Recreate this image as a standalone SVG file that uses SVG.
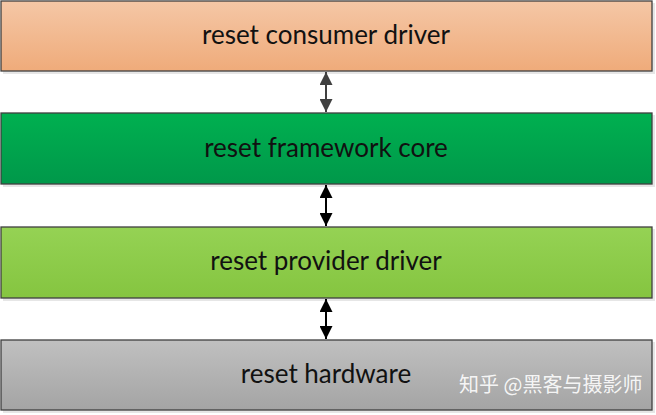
<svg xmlns="http://www.w3.org/2000/svg" width="656" height="415" viewBox="0 0 656 415">
<style>
.box{stroke:#3f3f3f;stroke-width:1.3}
.shadow{fill:#e6e6e6}
.lbl{font-family:Lato,"Open Sans","Liberation Sans",sans-serif;font-size:26px;fill:#111;text-anchor:middle}
.conn{fill:none;stroke-width:2}
.wm{font-family:"Noto Sans CJK SC","Noto Sans",sans-serif;font-size:20px;fill:#ffffff;fill-opacity:0.9}
</style>
<defs>
<linearGradient id="gOrange" x1="0" y1="0" x2="0" y2="1"><stop offset="0" stop-color="#f5c7a6"/><stop offset="1" stop-color="#efab7a"/></linearGradient>
<linearGradient id="gGreen" x1="0" y1="0" x2="0" y2="1"><stop offset="0" stop-color="#00b050"/><stop offset="1" stop-color="#00984a"/></linearGradient>
<linearGradient id="gLime" x1="0" y1="0" x2="0" y2="1"><stop offset="0" stop-color="#95d254"/><stop offset="1" stop-color="#85c540"/></linearGradient>
<linearGradient id="gGray" x1="0" y1="0" x2="0" y2="1"><stop offset="0" stop-color="#c0c0c0"/><stop offset="1" stop-color="#a4a4a4"/></linearGradient>
<marker id="ahGray" viewBox="0 0 10 10" refX="10" refY="5" markerWidth="6.5" markerHeight="6.5" markerUnits="strokeWidth" orient="auto-start-reverse"><path d="M0,0 L10,5 L0,10 z" fill="#404040"/></marker>
<marker id="ahBlack" viewBox="0 0 10 10" refX="10" refY="5" markerWidth="6.5" markerHeight="6.5" markerUnits="strokeWidth" orient="auto-start-reverse"><path d="M0,0 L10,5 L0,10 z" fill="#000"/></marker>
</defs>
<rect width="656" height="415" fill="#ffffff"/>
<g id="node-consumer">
<rect class="shadow" x="3" y="3" width="652" height="71"/>
<rect class="box" x="1" y="1" width="651" height="70" fill="url(#gOrange)"/>
<text class="lbl" x="326" y="44">reset consumer driver</text>
</g>
<g id="node-core">
<rect class="shadow" x="3" y="115" width="652" height="72"/>
<rect class="box" x="1" y="113" width="651" height="71" fill="url(#gGreen)"/>
<text class="lbl" x="326" y="157">reset framework core</text>
</g>
<g id="node-provider">
<rect class="shadow" x="3" y="229" width="652" height="72"/>
<rect class="box" x="1" y="227" width="651" height="71" fill="url(#gLime)"/>
<text class="lbl" x="326" y="270">reset provider driver</text>
</g>
<g id="node-hardware">
<rect class="shadow" x="3" y="342" width="652" height="71"/>
<rect class="box" x="1" y="340" width="651" height="70" fill="url(#gGray)"/>
<text class="lbl" x="326" y="383">reset hardware</text>
</g>
<g id="connectors">
<line class="conn" x1="326" y1="72" x2="326" y2="112" stroke="#404040" marker-start="url(#ahGray)" marker-end="url(#ahGray)"/>
<line class="conn" x1="326" y1="185" x2="326" y2="226" stroke="#000" marker-start="url(#ahBlack)" marker-end="url(#ahBlack)"/>
<line class="conn" x1="326" y1="299" x2="326" y2="339" stroke="#000" marker-start="url(#ahBlack)" marker-end="url(#ahBlack)"/>
</g>
<text class="wm" x="459" y="392">知乎 @黑客与摄影师</text>
</svg>
